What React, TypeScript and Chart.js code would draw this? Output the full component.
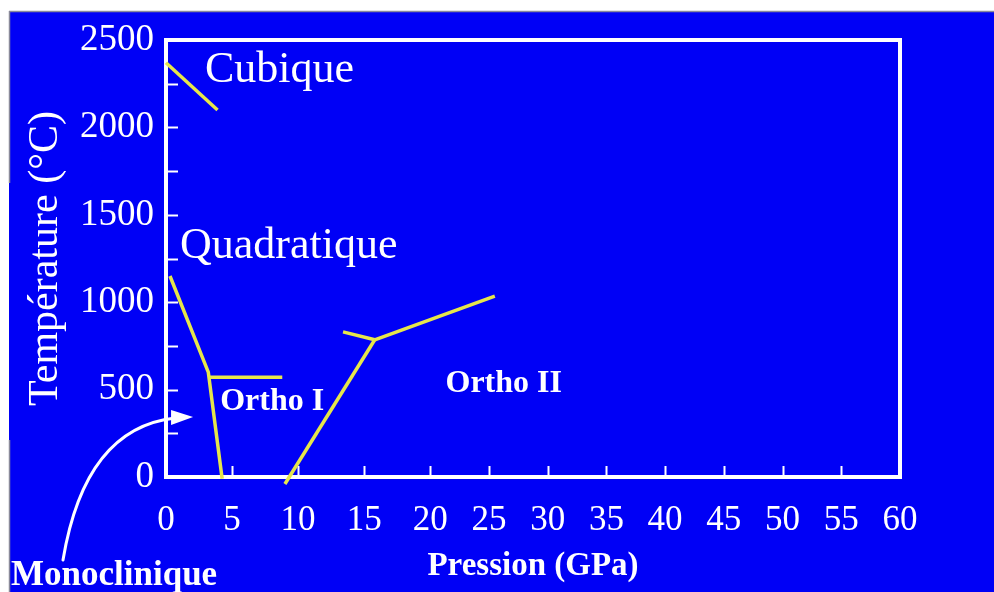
import { useEffect, useRef } from 'react';
import { Chart, registerables, LinearScale } from 'chart.js';

// ---------- data ----------
const xTickStep = 5; // GPa
const yTickStep = 500; // °C
const xMin = 0;
const xMax = 60;
const yMin = 0;
const yMax = 2500;

// phase boundaries (pressure GPa, temperature °C)
const cubiqueP = [0, 3.9];
const cubiqueT = [2370, 2100];
const quadratiqueP = [0.3, 3.2, 4.25];
const quadratiqueT = [1150, 600, -10];
const ortho1TopP = [3.2, 8.8];
const ortho1TopT = [570, 570];
const ortho12P = [9.0, 15.8];
const ortho12T = [-40, 785];
const spurP = [13.4, 15.8];
const spurT = [830, 785];
const ortho2P = [15.8, 25.5];
const ortho2T = [785, 1035];

// phase names and their anchor (pressure, temperature)
const regionNames = ['Cubique', 'Quadratique', 'Ortho I', 'Ortho II'];
const regionP = [2.95, 1.06, 4.1, 21.3];
const regionT = [2260, 1253, 383, 486];
const regionBold = [false, false, true, true];

const monoName = 'Monoclinique';
const monoArrowP = 2.05;
const monoArrowT = 343;

const xTitle = 'Pression (GPa)';
const yTitle = 'Température (°C)';

// ---------- styles ----------
const BG = '#0000f6';
const YELLOW = '#e6e64a';
const WHITE = '#ffffff';
const SERIF = "'Liberation Serif', 'Times New Roman', serif";

// The source axis is not uniform: 0–20 GPa takes more room than 20–60 GPa.
const X_BREAK_VALUES = [0, 20, 60];
const X_BREAK_FRACS = [0, 0.36, 1];

class PiecewiseLinearScale extends LinearScale {
  static id = 'piecewiseLinear';
  static defaults = LinearScale.defaults;
  getPixelForValue(value: any) {
    if (value === null || value === undefined || isNaN(value)) return NaN;
    const v = +value;
    let i = 0;
    while (i < X_BREAK_VALUES.length - 2 && v > X_BREAK_VALUES[i + 1]) i++;
    const v0 = X_BREAK_VALUES[i], v1 = X_BREAK_VALUES[i + 1];
    const f0 = X_BREAK_FRACS[i], f1 = X_BREAK_FRACS[i + 1];
    const frac = f0 + ((v - v0) / (v1 - v0)) * (f1 - f0);
    return (this as any).getPixelForDecimal(frac);
  }
  getValueForPixel(pixel: number) {
    const d = (this as any).getDecimalForPixel(pixel);
    let i = 0;
    while (i < X_BREAK_FRACS.length - 2 && d > X_BREAK_FRACS[i + 1]) i++;
    const v0 = X_BREAK_VALUES[i], v1 = X_BREAK_VALUES[i + 1];
    const f0 = X_BREAK_FRACS[i], f1 = X_BREAK_FRACS[i + 1];
    return v0 + ((d - f0) / (f1 - f0)) * (v1 - v0);
  }
}

Chart.register(...registerables);
Chart.register(PiecewiseLinearScale as any);

const toPts = (ps: number[], ts: number[]) => ps.map((p, i) => ({ x: p, y: ts[i] }));

const decorPlugin = {
  id: 'decor',
  beforeDraw(chart: any) {
    const { ctx, width, height } = chart;
    ctx.save();
    ctx.fillStyle = WHITE;
    ctx.fillRect(0, 0, width, height);
    ctx.fillStyle = BG;
    ctx.fillRect(9, 11, width - 9, height - 11);
    ctx.strokeStyle = '#8a8a9a';
    ctx.lineWidth = 1.5;
    ctx.beginPath();
    ctx.moveTo(9, 11.5);
    ctx.lineTo(width, 11.5);
    ctx.moveTo(9.5, 11);
    ctx.lineTo(9.5, 183);
    ctx.moveTo(9.5, 440);
    ctx.lineTo(9.5, height);
    ctx.stroke();
    ctx.restore();
  },
  beforeDatasetsDraw(chart: any) {
    const { ctx, chartArea } = chart;
    const xs = chart.scales.x;
    const ys = chart.scales.y;
    ctx.save();
    ctx.strokeStyle = WHITE;
    // inward tick marks
    ctx.lineWidth = 2;
    ctx.beginPath();
    for (let v = xMin + xTickStep; v < xMax; v += xTickStep) {
      const px = Math.round(xs.getPixelForValue(v)) + 0.5;
      ctx.moveTo(px, chartArea.bottom);
      ctx.lineTo(px, chartArea.bottom - 11);
    }
    for (let v = yMin + yTickStep / 2; v < yMax; v += yTickStep / 2) {
      const py = Math.round(ys.getPixelForValue(v)) + 0.5;
      ctx.moveTo(chartArea.left, py);
      ctx.lineTo(chartArea.left + 12, py);
    }
    ctx.stroke();
    // frame
    ctx.lineWidth = 4;
    ctx.strokeRect(chartArea.left, chartArea.top, chartArea.right - chartArea.left, chartArea.bottom - chartArea.top);
    ctx.restore();
  },
  afterDatasetsDraw(chart: any) {
    const { ctx } = chart;
    const xs = chart.scales.x;
    const ys = chart.scales.y;
    ctx.save();
    ctx.fillStyle = WHITE;
    ctx.textAlign = 'left';
    ctx.textBaseline = 'alphabetic';
    regionNames.forEach((name, i) => {
      ctx.font = regionBold[i] ? `bold 32px ${SERIF}` : `44px ${SERIF}`;
      ctx.fillText(name, xs.getPixelForValue(regionP[i]), ys.getPixelForValue(regionT[i]));
    });
    // Monoclinique label with curved arrow
    ctx.font = `bold 35px ${SERIF}`;
    ctx.fillText(monoName, 11, 585);
    const tipX = xs.getPixelForValue(monoArrowP);
    const tipY = ys.getPixelForValue(monoArrowT);
    ctx.strokeStyle = WHITE;
    ctx.lineWidth = 3;
    ctx.lineCap = 'round';
    ctx.beginPath();
    ctx.moveTo(63, 560);
    ctx.quadraticCurveTo(85, 428, tipX - 18, tipY + 1);
    ctx.stroke();
    ctx.beginPath();
    ctx.moveTo(tipX, tipY);
    ctx.lineTo(tipX - 22, tipY - 7);
    ctx.lineTo(tipX - 22, tipY + 8);
    ctx.closePath();
    ctx.fill();
    ctx.restore();
  },
};

export default function App() {
  const ref = useRef<HTMLCanvasElement | null>(null);
  useEffect(() => {
    if (!ref.current) return;
    const lineDs = (label: string, ps: number[], ts: number[]) => ({
      label,
      data: toPts(ps, ts),
      showLine: true,
      borderColor: YELLOW,
      borderWidth: 3.5,
      pointRadius: 0,
      fill: false,
      clip: false as any,
    });
    const chart = new Chart(ref.current, {
      type: 'scatter',
      data: {
        datasets: [
          lineDs('Cubique / Quadratique', cubiqueP, cubiqueT),
          lineDs('Quadratique / Monoclinique', quadratiqueP, quadratiqueT),
          lineDs('Quadratique / Ortho I', ortho1TopP, ortho1TopT),
          lineDs('Ortho I / Ortho II', ortho12P, ortho12T),
          lineDs('Ortho I / Quadratique', spurP, spurT),
          lineDs('Quadratique / Ortho II', ortho2P, ortho2T),
        ],
      },
      options: {
        animation: false,
        responsive: false,
        layout: { padding: { left: 0, top: 40, right: 94, bottom: 0 } },
        plugins: { legend: { display: false }, tooltip: { enabled: false } },
        scales: {
          x: {
            type: 'piecewiseLinear' as any,
            min: xMin,
            max: xMax,
            grid: { display: false },
            border: { display: false },
            ticks: {
              stepSize: xTickStep,
              color: WHITE,
              padding: 15,
              maxRotation: 0,
              autoSkip: false,
              font: { family: SERIF, size: 35 },
              callback: (v: any) => String(v),
            },
            title: {
              display: true,
              text: xTitle,
              color: WHITE,
              font: { family: SERIF, size: 33, weight: 'bold' },
              padding: { top: 0, bottom: 6 },
            },
            afterFit: (s: any) => {
              s.height = 115;
            },
          } as any,
          y: {
            type: 'linear',
            min: yMin,
            max: yMax,
            grid: { display: false },
            border: { display: false },
            ticks: {
              stepSize: yTickStep,
              color: WHITE,
              padding: 4,
              font: { family: SERIF, size: 37 },
              callback: (v: any) => String(v),
            },
            title: {
              display: true,
              text: yTitle,
              color: WHITE,
              font: { family: SERIF, size: 42 },
              padding: { top: 21, bottom: 0 },
            },
            afterFit: (s: any) => {
              s.width = 166;
            },
          },
        },
      },
      plugins: [decorPlugin],
    });
    return () => chart.destroy();
  }, []);
  return (
    <div style={{ position: 'absolute', left: 0, top: 0, width: 994, height: 592 }}>
      <canvas ref={ref} width={994} height={592} style={{ display: 'block' }} />
    </div>
  );
}
